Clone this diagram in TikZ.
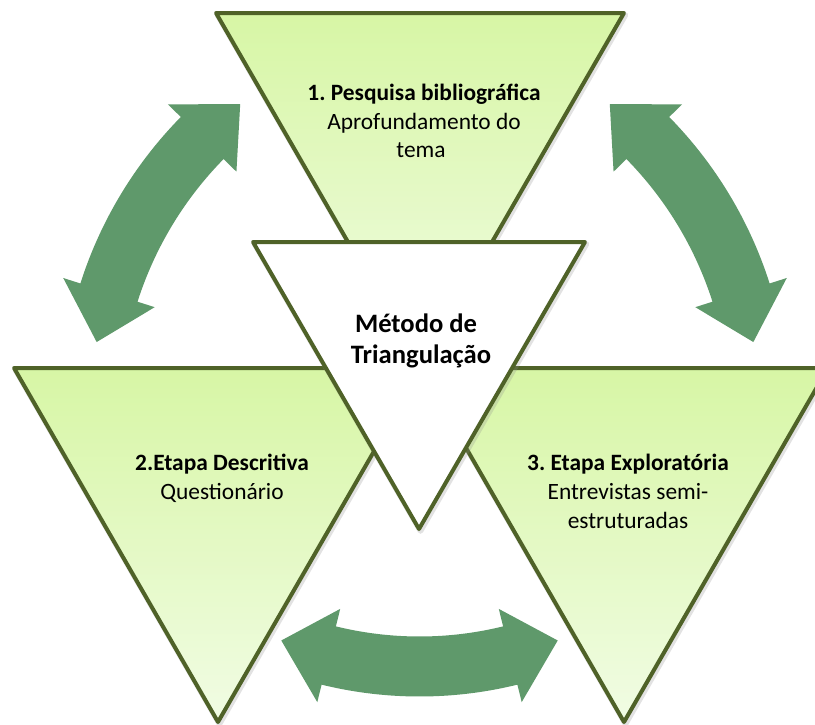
\documentclass[tikz,border=0pt]{standalone}
\usepackage{fontspec}
\setmainfont{Carlito}
\frenchspacing
\definecolor{edgeolive}{HTML}{4F6228}
\definecolor{triTop}{HTML}{D7F6A5}
\definecolor{triBot}{HTML}{F1FCE4}
\definecolor{arrowgreen}{HTML}{5F996B}

% geometry of the curved double arrows
\newcommand\shaftw{30}
\newcommand\barbw{48}
\newcommand\headang{7.5}
% #1,#2 centre of the arc, #3 mid radius, #4 and #5 angles of the two tips
\newcommand\bentarrow[5]{%
  \fill[arrowgreen]
    ({#1+#3*cos(#4)},{#2+#3*sin(#4)})
    -- ({#1+(#3+\barbw)*cos(#4+\headang)},{#2+(#3+\barbw)*sin(#4+\headang)})
    -- ({#1+(#3+\shaftw)*cos(#4+\headang)},{#2+(#3+\shaftw)*sin(#4+\headang)})
    -- plot[domain={#4+\headang}:{#5-\headang},samples=40]
         ({#1+(#3+\shaftw)*cos(\x)},{#2+(#3+\shaftw)*sin(\x)})
    -- ({#1+(#3+\barbw)*cos(#5-\headang)},{#2+(#3+\barbw)*sin(#5-\headang)})
    -- ({#1+#3*cos(#5)},{#2+#3*sin(#5)})
    -- ({#1+(#3-\barbw)*cos(#5-\headang)},{#2+(#3-\barbw)*sin(#5-\headang)})
    -- ({#1+(#3-\shaftw)*cos(#5-\headang)},{#2+(#3-\shaftw)*sin(#5-\headang)})
    -- plot[domain={#5-\headang}:{#4+\headang},samples=40]
         ({#1+(#3-\shaftw)*cos(\x)},{#2+(#3-\shaftw)*sin(\x)})
    -- ({#1+(#3-\barbw)*cos(#4+\headang)},{#2+(#3-\barbw)*sin(#4+\headang)})
    -- cycle;}

\begin{document}
\begin{tikzpicture}[x=1pt,y=-1pt,
  tri/.style={draw=edgeolive,line width=4pt,line join=round,
              top color=triTop,bottom color=triBot},
  core/.style={draw=edgeolive,line width=4pt,line join=round,fill=white},
  glow/.style={draw=black!45,line width=5.5pt,line join=round,opacity=0.25},
  title/.style={font=\fontsize{23.4}{28.5}\selectfont\bfseries,anchor=base,inner sep=0pt},
  sub/.style={font=\fontsize{23.4}{28.5}\selectfont,anchor=base,inner sep=0pt},
  coretext/.style={font=\fontsize{26.6}{31.5}\selectfont\bfseries,anchor=base,inner sep=0pt}]

\fill[white] (0,0) rectangle (815,724);
\useasboundingbox (0,0) rectangle (815,724);
\clip (0,0) rectangle (815,724);

% curved double arrows between the stages
\bentarrow{480}{411}{389.5}{190.2}{232}
\bentarrow{370}{411}{389.5}{308}{349.8}
\bentarrow{419.5}{286}{380.5}{68.7}{111.3}

% soft shadows of the outer triangles
\draw[glow] (217.5,15) -- (625.5,15) -- (421.5,369) -- cycle;
\draw[glow] (15.5,370) -- (423.5,370) -- (219.5,724) -- cycle;
\draw[glow] (421.5,370) -- (829.5,370) -- (625.5,724) -- cycle;

% the three stages
\path[tri] (216,13) coordinate (t1a) -- (624,13) coordinate (t1b) -- (420,367) coordinate (t1c) -- cycle;
\path[tri] (14,368) coordinate (t2a) -- (422,368) coordinate (t2b) -- (218,722) coordinate (t2c) -- cycle;
\path[tri] (420,368) coordinate (t3a) -- (828,368) coordinate (t3b) -- (624,722) coordinate (t3c) -- cycle;

% central triangle
\draw[glow] (254.5,244) -- (586.5,244) -- (420.5,531) -- cycle;
\path[core] (253,242) coordinate (ca) -- (585,242) coordinate (cb) -- (419,529) coordinate (cc) -- cycle;

% labels
\node[title] (s1title) at (424,100) {1. Pesquisa bibliográfica};
\node[sub]   (s1line1) at (424,129) {Aprofundamento do};
\node[sub]   (s1line2) at (421,157) {tema};

\node[title] (s2title) at (222,470) {2.Etapa Descritiva};
\node[sub]   (s2line1) at (222,499) {Questionário};

\node[title] (s3title) at (628,470) {3. Etapa Exploratória};
\node[sub]   (s3line1) at (628,499) {Entrevistas semi-};
\node[sub]   (s3line2) at (628,528) {estruturadas};

\node[coretext] (core1) at (416,332) {Método de};
\node[coretext] (core2) at (421,363) {Triangulação};
\end{tikzpicture}
\end{document}
